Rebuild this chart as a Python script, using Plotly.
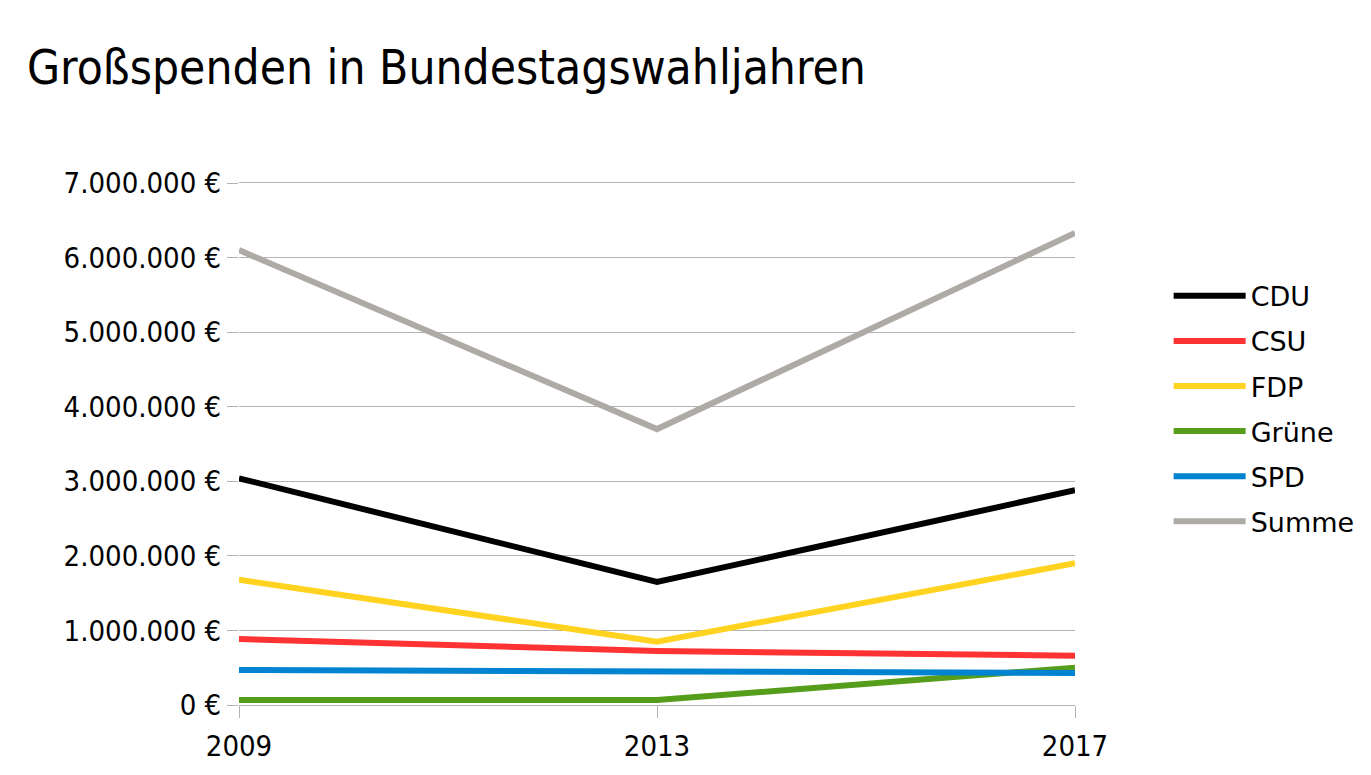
import plotly.graph_objects as go

years = [2009, 2013, 2017]
series_names = ["CDU", "CSU", "FDP", "Grüne", "SPD", "Summe"]
cdu = [3040000, 1650000, 2880000]
csu = [885000, 725000, 660000]
fdp = [1680000, 850000, 1900000]
gruene = [67000, 67000, 500000]
spd = [470000, 445000, 430000]
summe = [6100000, 3700000, 6330000]
colors = ["#000000", "#ff3333", "#ffd320", "#579d1c", "#0084d1", "#aeaaa5"]
y_tickvals = [0, 1000000, 2000000, 3000000, 4000000, 5000000, 6000000, 7000000]
y_ticktext = ["0 €", "1.000.000 €", "2.000.000 €", "3.000.000 €", "4.000.000 €",
              "5.000.000 €", "6.000.000 €", "7.000.000 €"]
x_ticktext = ["2009", "2013", "2017"]

FONT = "DejaVu Sans Condensed, DejaVu Sans, sans-serif"
FONT_REG = "DejaVu Sans, sans-serif"

fig = go.Figure()
for name, vals, col in zip(series_names, [cdu, csu, fdp, gruene, spd, summe], colors):
    fig.add_trace(go.Scatter(x=years, y=vals, name=name, mode="lines", legendgroup=name,
                             line=dict(color=col, width=6)))

fig.update_layout(
    width=1371, height=775,
    margin=dict(l=231, r=304, t=175, b=78),
    paper_bgcolor="white", plot_bgcolor="white",
    font=dict(family=FONT, color="black", size=29),
    title=dict(text="Großspenden in Bundestagswahljahren", x=19/1371, xanchor="left",
               xref="container",
               y=1 - 59.5/775, yanchor="middle", yref="container",
               font=dict(family=FONT, size=47.5, color="black")),
    showlegend=True,
    legend=dict(x=1.112, xanchor="left", y=0.83, yanchor="top",
                font=dict(family=FONT_REG, size=27, color="black"),
                bgcolor="rgba(0,0,0,0)", tracegroupgap=7, itemwidth=72),
    xaxis=dict(range=[2009, 2017], tickvals=years, ticktext=x_ticktext,
               showgrid=False, showline=True, linecolor="#b3b3b3", linewidth=1,
               mirror=True, ticks="outside", ticklen=12, tickcolor="#b3b3b3",
               zeroline=False, tickfont=dict(size=29), ticklabelstandoff=3),
    yaxis=dict(range=[0, 7000000], tickvals=y_tickvals, ticktext=y_ticktext,
               showgrid=True, gridcolor="#b3b3b3", gridwidth=1,
               showline=False, ticks="outside", ticklen=11, tickcolor="#b3b3b3",
               zeroline=False, tickfont=dict(size=29)),
)

fig.write_html("out.html")
